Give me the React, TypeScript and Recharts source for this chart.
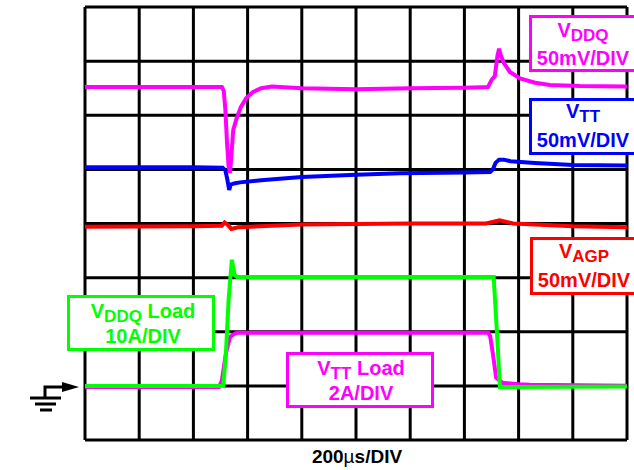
import React from "react";
import { CartesianGrid, Line, LineChart, XAxis, YAxis } from "recharts";

// time in µs (200µs/DIV), level in screen divisions from the bottom graticule line
const timeTicks = [0, 200, 400, 600, 800, 1000, 1200, 1400, 1600, 1800, 2000];
const divTicks = [0, 1, 2, 3, 4, 5, 6, 7, 8];

const vddq = [
  { t: 0, v: 6.52 }, { t: 400, v: 6.52 }, { t: 505, v: 6.52 }, { t: 512, v: 6.45 },
  { t: 518, v: 6.1 }, { t: 524, v: 5.5 }, { t: 530, v: 5.05 }, { t: 535, v: 4.93 },
  { t: 541, v: 5.3 }, { t: 547, v: 5.73 }, { t: 560, v: 5.95 }, { t: 575, v: 6.15 },
  { t: 595, v: 6.32 }, { t: 620, v: 6.43 }, { t: 650, v: 6.5 }, { t: 690, v: 6.53 },
  { t: 800, v: 6.5 }, { t: 1000, v: 6.48 }, { t: 1200, v: 6.5 }, { t: 1400, v: 6.51 },
  { t: 1487, v: 6.52 }, { t: 1500, v: 6.65 }, { t: 1512, v: 6.72 }, { t: 1522, v: 7.1 },
  { t: 1528, v: 7.23 }, { t: 1535, v: 7.1 }, { t: 1545, v: 6.97 }, { t: 1568, v: 6.8 },
  { t: 1605, v: 6.68 }, { t: 1661, v: 6.6 }, { t: 1716, v: 6.56 }, { t: 1827, v: 6.54 },
  { t: 2000, v: 6.53 }
];

const vtt = [
  { t: 0, v: 5.04 }, { t: 400, v: 5.04 }, { t: 508, v: 5.03 }, { t: 518, v: 4.98 },
  { t: 525, v: 4.82 }, { t: 532, v: 4.62 }, { t: 538, v: 4.72 }, { t: 550, v: 4.74 },
  { t: 572, v: 4.76 }, { t: 650, v: 4.8 }, { t: 800, v: 4.86 }, { t: 1000, v: 4.9 },
  { t: 1162, v: 4.93 }, { t: 1400, v: 4.94 }, { t: 1495, v: 4.95 }, { t: 1505, v: 5.0 },
  { t: 1515, v: 5.12 }, { t: 1528, v: 5.18 }, { t: 1545, v: 5.18 }, { t: 1570, v: 5.15 },
  { t: 1660, v: 5.12 }, { t: 1800, v: 5.08 }, { t: 2000, v: 5.07 }
];

const vagp = [
  { t: 0, v: 3.94 }, { t: 400, v: 3.95 }, { t: 505, v: 3.96 }, { t: 515, v: 4.02 },
  { t: 528, v: 3.97 }, { t: 540, v: 3.9 }, { t: 565, v: 3.93 }, { t: 800, v: 3.98 },
  { t: 1200, v: 4.0 }, { t: 1480, v: 4.0 }, { t: 1530, v: 4.06 }, { t: 1580, v: 4.0 },
  { t: 1800, v: 3.95 }, { t: 2000, v: 3.93 }
];

const vddqLoad = [
  { t: 0, v: 1.0 }, { t: 510, v: 1.0 }, { t: 520, v: 1.6 }, { t: 530, v: 2.6 },
  { t: 542, v: 3.33 }, { t: 552, v: 3.05 }, { t: 561, v: 3.01 }, { t: 1000, v: 3.01 },
  { t: 1508, v: 3.01 }, { t: 1520, v: 2.0 }, { t: 1531, v: 0.98 }, { t: 2000, v: 0.99 }
];

const vttLoad = [
  { t: 0, v: 0.98 }, { t: 495, v: 0.98 }, { t: 505, v: 1.1 }, { t: 520, v: 1.6 },
  { t: 535, v: 1.9 }, { t: 550, v: 1.96 }, { t: 561, v: 1.98 }, { t: 1000, v: 1.98 },
  { t: 1488, v: 1.98 }, { t: 1495, v: 1.92 }, { t: 1505, v: 1.6 }, { t: 1517, v: 1.15 },
  { t: 1540, v: 1.06 }, { t: 1600, v: 1.03 }, { t: 1640, v: 1.02 }, { t: 2000, v: 1.0 }
];

const levelValues = [6.52, 5.04, 3.95];
const levelLabels = ["2.480V", "1.230V", "1.480V"];
const levelColors = ["#ff00ff", "#0000ff", "#ff0000"];

const FONT = "'Liberation Sans', Arial, sans-serif";

function LevelTick(props: any) {
  const { x, y, payload } = props;
  const i = levelValues.indexOf(payload.value);
  return (
    <text x={x} y={y + 6} textAnchor="end" fontSize={17} fontWeight="bold" fontFamily={FONT} fill={levelColors[i]}>
      {levelLabels[i]}
    </text>
  );
}

type BoxProps = {
  x: number; y: number; w: number; h: number; color: string;
  cx: number; base1: number; base2: number;
  main: string; sub: string; tail?: string; line2: string;
};

function LabelBox({ x, y, w, h, color, cx, base1, base2, main, sub, tail, line2 }: BoxProps) {
  return (
    <g fontFamily={FONT} fontWeight="bold" fill={color}>
      <rect x={x} y={y} width={w} height={h} fill="#fff" stroke={color} strokeWidth={3} />
      <text x={cx} y={base1} textAnchor="middle" fontSize={20}>
        {main}
        <tspan fontSize={17} dy={4}>{sub}</tspan>
        {tail ? <tspan dy={-4}>{" " + tail}</tspan> : null}
      </text>
      <text x={cx} y={base2} textAnchor="middle" fontSize={20}>{line2}</text>
    </g>
  );
}

export default function App() {
  return (
    <div style={{ position: "absolute", left: 0, top: 0, width: 634, height: 470, overflow: "hidden", background: "#fff" }}>
      <LineChart width={634} height={470} data={vddq} margin={{ top: 7, right: 7, bottom: 30, left: 0 }}>
        <XAxis type="number" dataKey="t" domain={[0, 2000]} ticks={timeTicks} hide allowDataOverflow />
        <YAxis type="number" domain={[0, 8]} ticks={divTicks} hide allowDataOverflow />
        <YAxis
          yAxisId="lbl"
          type="number"
          domain={[0, 8]}
          ticks={levelValues}
          interval={0}
          width={85}
          axisLine={false}
          tickLine={false}
          tickSize={0}
          tickMargin={21}
          tick={<LevelTick />}
        />
        <CartesianGrid stroke="#000" strokeWidth={3} />
        <Line data={vddq} dataKey="v" stroke="#ff00ff" strokeWidth={4} dot={false} isAnimationActive={false} />
        <Line data={vtt} dataKey="v" stroke="#0000ff" strokeWidth={4} dot={false} isAnimationActive={false} />
        <Line data={vagp} dataKey="v" stroke="#ff0000" strokeWidth={4} dot={false} isAnimationActive={false} />
        <Line data={vttLoad} dataKey="v" stroke="#ff00ff" strokeWidth={4} dot={false} isAnimationActive={false} />
        <Line data={vddqLoad} dataKey="v" stroke="#00ff00" strokeWidth={4} dot={false} isAnimationActive={false} />
      </LineChart>

      <svg width={634} height={470} style={{ position: "absolute", left: 0, top: 0, pointerEvents: "none" }}>
        <LabelBox x={530.5} y={16.5} w={112} h={54} color="#ff00ff" cx={583} base1={37} base2={65} main="V" sub="DDQ" line2="50mV/DIV" />
        <LabelBox x={530.5} y={99.5} w={112} h={54} color="#0000ff" cx={583} base1={118} base2={147} main="V" sub="TT" line2="50mV/DIV" />
        <LabelBox x={531.5} y={238.5} w={112} h={55} color="#ff0000" cx={584} base1={258} base2={287} main="V" sub="AGP" line2="50mV/DIV" />
        <LabelBox x={68.5} y={296.5} w={145} h={53} color="#00ff00" cx={143} base1={318} base2={343} main="V" sub="DDQ" tail="Load" line2="10A/DIV" />
        <LabelBox x={287.5} y={353.5} w={145} h={53} color="#ff00ff" cx={361} base1={375} base2={400} main="V" sub="TT" tail="Load" line2="2A/DIV" />

        <g stroke="#000" strokeWidth={3} fill="none">
          <polyline points="45,398 45,387 66,387" />
          <line x1={30} y1={398} x2={61} y2={398} />
          <line x1={35} y1={404} x2={56} y2={404} />
          <line x1={40} y1={410} x2={52} y2={410} />
        </g>
        <polygon points="62,382 79,387 62,392" fill="#000" />

        <text x={357} y={463} textAnchor="middle" fontFamily={FONT} fontWeight="bold" fontSize={19} fill="#000">
          200<tspan fontWeight="normal">µ</tspan>s/DIV
        </text>
      </svg>
    </div>
  );
}
